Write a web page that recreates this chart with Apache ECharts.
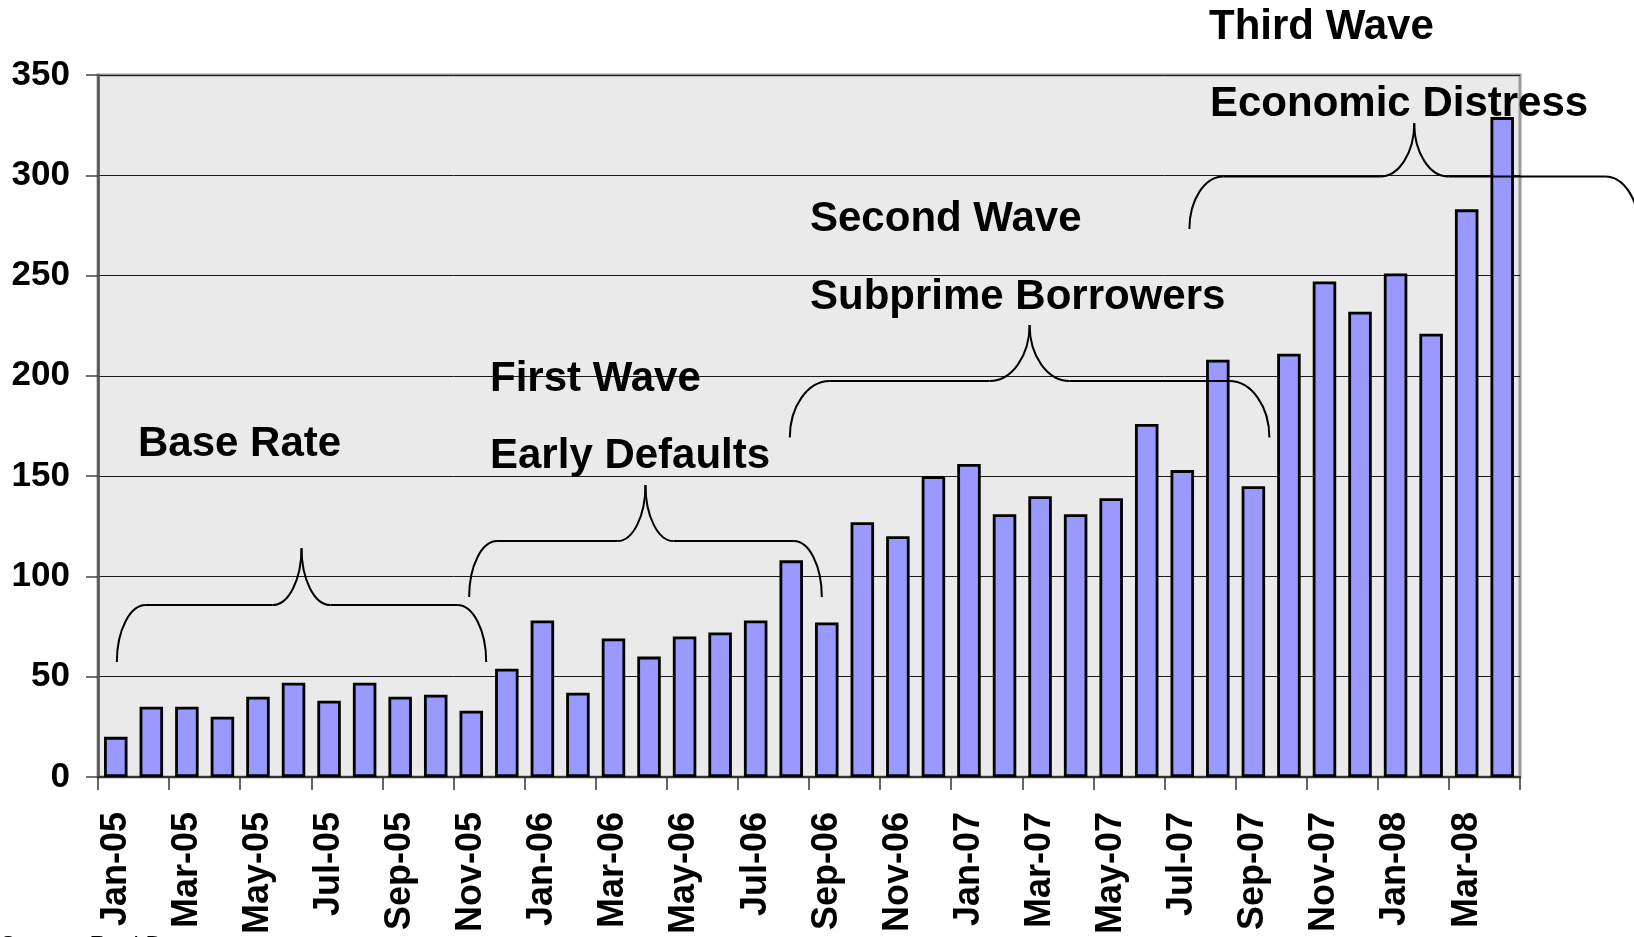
<!DOCTYPE html>
<html>
<head>
<meta charset="utf-8">
<script src="https://cdn.jsdelivr.net/npm/echarts@6/dist/echarts.min.js"></script>
<style>
  html, body { margin: 0; padding: 0; background: #ffffff; }
  #chart { width: 1634px; height: 937px; }
</style>
</head>
<body>
<div id="chart"></div>
<script>
// Monthly categories, Jan-05 .. Apr-08
const months = [
  'Jan-05','Feb-05','Mar-05','Apr-05','May-05','Jun-05','Jul-05','Aug-05','Sep-05','Oct-05','Nov-05','Dec-05',
  'Jan-06','Feb-06','Mar-06','Apr-06','May-06','Jun-06','Jul-06','Aug-06','Sep-06','Oct-06','Nov-06','Dec-06',
  'Jan-07','Feb-07','Mar-07','Apr-07','May-07','Jun-07','Jul-07','Aug-07','Sep-07','Oct-07','Nov-07','Dec-07',
  'Jan-08','Feb-08','Mar-08','Apr-08'
];

// Monthly counts
const counts = [
  20, 35, 35, 30, 40, 47, 38, 47, 40, 41, 33, 54,
  78, 42, 69, 60, 70, 72, 78, 108, 77, 127, 120, 150,
  156, 131, 140, 131, 139, 176, 153, 208, 145, 211, 247, 232,
  251, 221, 283, 329
];

// Value axis range and tick step
const yMin = 0;
const yMax = 350;
const yStep = 50;

// Phase captions
const phaseTitles    = ['Base Rate', 'First Wave', 'Second Wave', 'Third Wave'];
const phaseSubtitles = ['', 'Early Defaults', 'Subprime Borrowers', 'Economic Distress'];
const sourceNote = 'Source: Real Data';

const FONT = '"Liberation Sans", Arial, Helvetica, sans-serif';

const chart = echarts.init(document.getElementById('chart'), null, { renderer: 'canvas' });

chart.setOption({
  animation: false,
  grid: {
    left: 98, top: 75, width: 1422, height: 702,
    show: true,
    backgroundColor: '#eaeaea',
    borderColor: '#9a9a9a',
    borderWidth: 3
  },
  xAxis: {
    type: 'category',
    data: months,
    boundaryGap: true,
    axisLine: { show: true, lineStyle: { color: '#333', width: 2 } },
    axisTick: { show: true, interval: 1, length: 13, lineStyle: { color: '#333', width: 1.5 } },
    axisLabel: {
      interval: 1, rotate: 90, margin: 35,
      fontSize: 36, fontWeight: 'bold', color: '#000', fontFamily: FONT
    },
    splitLine: { show: false }
  },
  yAxis: {
    type: 'value',
    min: yMin, max: yMax, interval: yStep,
    axisLine: { show: true, lineStyle: { color: '#555', width: 2.5 } },
    axisTick: { show: true, length: 12, lineStyle: { color: '#444', width: 1.5 } },
    axisLabel: {
      margin: 28, fontSize: 35, fontWeight: 'bold', color: '#000', fontFamily: FONT
    },
    splitLine: { show: true, lineStyle: { color: '#1a1a1a', width: 1 } }
  },
  series: [{
    type: 'bar',
    data: counts,
    barWidth: 23.5,
    itemStyle: { color: '#9999ff', borderColor: '#000', borderWidth: 2.8 }
  }]
});

// Braces over each phase: span in category units (0 = centre of first month),
// arm foot / bar / tip heights in value units, curve radius in px.
const braceSpans = [
  { from: 0.03,  to: 10.42, foot: 57.3,  bar: 85.7,  tip: 114.0, r: 29 },
  { from: 9.94,  to: 19.86, foot: 89.7,  bar: 117.6, tip: 145.6, r: 28 },
  { from: 18.96, to: 32.45, foot: 169.2, bar: 197.4, tip: 225.3, r: 40 },
  { from: 30.2,  to: 42.85, foot: 273.2, bar: 299.4, tip: 326.0, r: 34 }
];

// Caption anchors in px
const captionPos = [
  { x: 138,  y: 444, sx: 0,    sy: 0 },
  { x: 490,  y: 379, sx: 490,  sy: 456 },
  { x: 810,  y: 219, sx: 810,  sy: 297 },
  { x: 1209, y: 27,  sx: 1210, sy: 104 }
];

const c0 = chart.convertToPixel({ xAxisIndex: 0 }, 0);
const c1 = chart.convertToPixel({ xAxisIndex: 0 }, 1);
const step = c1 - c0;
const px = u => c0 + u * step;
const py = v => chart.convertToPixel({ yAxisIndex: 0 }, v);

function braceParts(b) {
  const x0 = px(b.from), x1 = px(b.to), xm = (x0 + x1) / 2;
  const yf = py(b.foot), yb = py(b.bar), yt = py(b.tip);
  const r = b.r, k = 0.5523;
  const ha = yf - yb, hp = yb - yt;
  const st = { stroke: '#000', lineWidth: 2, fill: 'none' };
  const z = 100;
  return [
    { type: 'bezierCurve', z, silent: true, style: st,
      shape: { x1: x0, y1: yf, cpx1: x0, cpy1: yf - k * ha, cpx2: x0 + r - k * r, cpy2: yb, x2: x0 + r, y2: yb } },
    { type: 'line', z, silent: true, style: st,
      shape: { x1: x0 + r, y1: yb, x2: xm - r, y2: yb } },
    { type: 'bezierCurve', z, silent: true, style: st,
      shape: { x1: xm - r, y1: yb, cpx1: xm - r + k * r, cpy1: yb, cpx2: xm, cpy2: yt + k * hp, x2: xm, y2: yt } },
    { type: 'bezierCurve', z, silent: true, style: st,
      shape: { x1: xm, y1: yt, cpx1: xm, cpy1: yt + k * hp, cpx2: xm + r - k * r, cpy2: yb, x2: xm + r, y2: yb } },
    { type: 'line', z, silent: true, style: st,
      shape: { x1: xm + r, y1: yb, x2: x1 - r, y2: yb } },
    { type: 'bezierCurve', z, silent: true, style: st,
      shape: { x1: x1 - r, y1: yb, cpx1: x1 - r + k * r, cpy1: yb, cpx2: x1, cpy2: yf - k * ha, x2: x1, y2: yf } }
  ];
}

function caption(text, x, y) {
  return {
    type: 'text', z: 101, silent: true, x, y,
    style: {
      text, fill: '#000', fontSize: 42, fontWeight: 'bold', fontFamily: FONT,
      align: 'left', verticalAlign: 'middle'
    }
  };
}

const elements = [];
braceSpans.forEach(b => elements.push(...braceParts(b)));
phaseTitles.forEach((t, i) => {
  const p = captionPos[i];
  elements.push(caption(t, p.x, p.y));
  if (phaseSubtitles[i]) elements.push(caption(phaseSubtitles[i], p.sx, p.sy));
});
elements.push({
  type: 'text', z: 101, silent: true, x: 0, y: 934,
  style: { text: sourceNote, fill: '#000', fontSize: 24, fontFamily: FONT, align: 'left', verticalAlign: 'top' }
});

chart.setOption({ graphic: { elements } });
</script>
</body>
</html>
